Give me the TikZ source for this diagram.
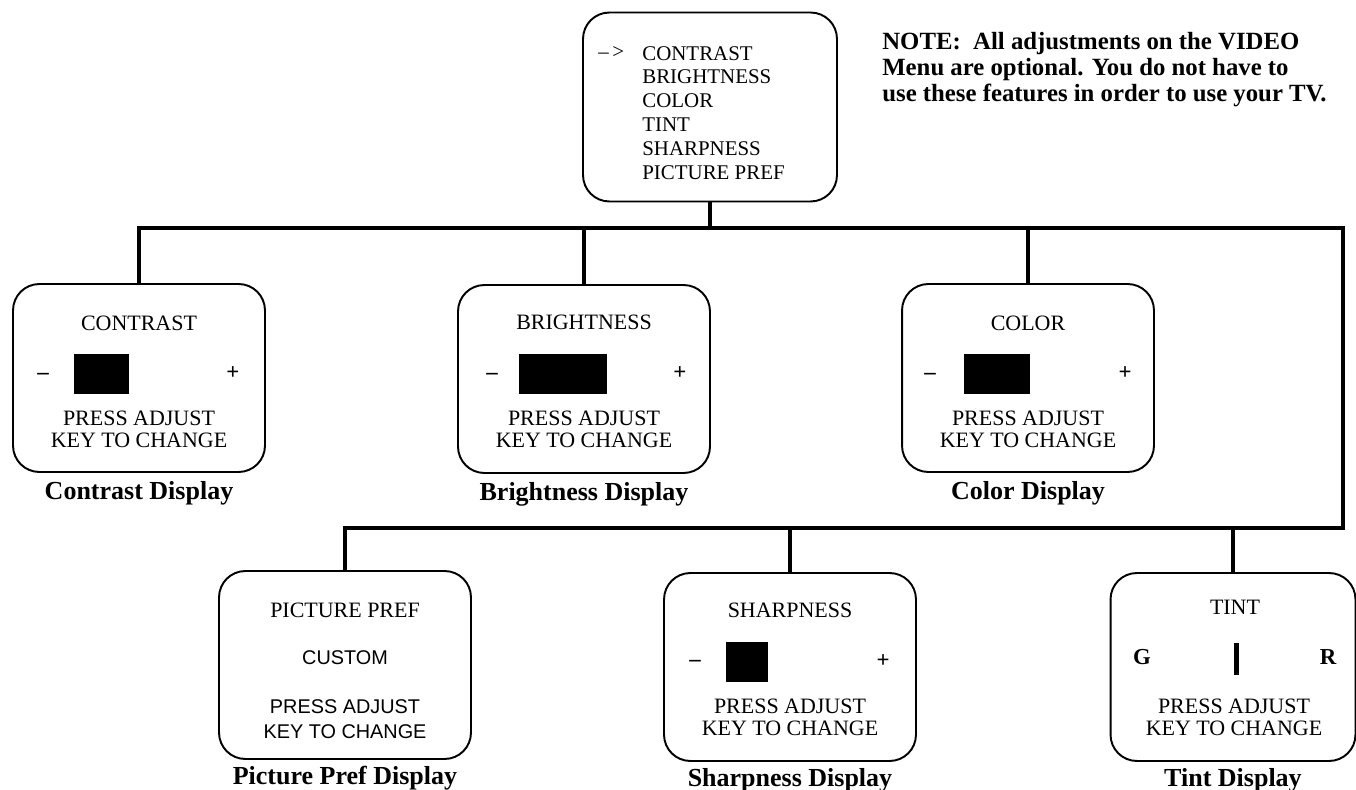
\documentclass[tikz,border=0pt]{standalone}
\usepackage{fontspec}
\setmainfont{Liberation Serif}
\newfontfamily\helv{Liberation Sans}
\usetikzlibrary{positioning}

\begin{document}
\begin{tikzpicture}[x=0.02cm,y=-0.02cm,
  panel/.style={draw,line width=1.1pt,rounded corners=15pt,minimum width=5.04cm,
                minimum height=3.76cm,inner sep=0pt},
  txt/.style={inner sep=0pt,align=center,font=\fontsize{12.5}{12.5}\selectfont},
  sign/.style={inner sep=0pt,font=\bfseries\fontsize{13}{13}\selectfont},
  sanstxt/.style={inner sep=0pt,align=center,font=\helv\fontsize{11.3}{14}\selectfont},
  dispcap/.style={inner sep=0pt,font=\bfseries\fontsize{14.8}{16}\selectfont},
  blk/.style={fill=black,inner sep=0pt,minimum height=0.82cm,anchor=west,minimum width=#1},
  bus/.style={line width=2.6pt}]
  \useasboundingbox (0,0) rectangle (1356,790);

  \node[panel,minimum width=5.08cm,minimum height=3.78cm] (menu) at (710,107) {};
  \node[inner sep=0pt,anchor=west,font=\fontsize{11.9}{11.9}\selectfont] (arw) at (598,53) {--\,>};
  \node[inner sep=0pt,anchor=west,align=left,font=\fontsize{11.9}{13.6}\selectfont] (items) at (642,113)
    {CONTRAST\\BRIGHTNESS\\COLOR\\TINT\\SHARPNESS\\PICTURE PREF};
  \node[inner sep=0pt,anchor=north west,align=left,font=\bfseries\fontsize{14.1}{14.8}\selectfont] (note) at (882,32)
    {NOTE:\ \ All adjustments on the VIDEO\\Menu are optional. You do not have to\\use these features in order to use your TV.};

  \node[panel] (con) at (139,378) {};
  \node[txt] (conT) at (139,323) {CONTRAST};
  \node[sign] (conM) at (43,376) {\textendash};
  \node[blk=1.1cm] (conB) at (74,374) {};
  \node[sign] (conP) at (233,373) {+};
  \node[txt] (conK) at (139,429) {PRESS ADJUST\\KEY TO CHANGE};
  \node[dispcap,below=0.16cm of con] (conL) {Contrast Display};

  \node[panel] (bri) at (584,379) {};
  \node[txt] (briT) at (584,322) {BRIGHTNESS};
  \node[sign] (briM) at (492,376) {\textendash};
  \node[blk=1.76cm] (briB) at (519,374) {};
  \node[sign] (briP) at (680,373) {+};
  \node[txt] (briK) at (584,429) {PRESS ADJUST\\KEY TO CHANGE};
  \node[dispcap,below=0.16cm of bri] (briL) {Brightness Display};

  \node[panel] (col) at (1028,378) {};
  \node[txt] (colT) at (1028,323) {COLOR};
  \node[sign] (colM) at (930,376) {\textendash};
  \node[blk=1.32cm] (colB) at (964,374) {};
  \node[sign] (colP) at (1125,373) {+};
  \node[txt] (colK) at (1028,429) {PRESS ADJUST\\KEY TO CHANGE};
  \node[dispcap,below=0.16cm of col] (colL) {Color Display};

  \node[panel] (pp) at (345,665) {};
  \node[txt] (ppT) at (345,610) {PICTURE PREF};
  \node[sanstxt] (ppC) at (345,658) {CUSTOM};
  \node[sanstxt] (ppK) at (345,719) {PRESS ADJUST\\KEY TO CHANGE};
  \node[dispcap,below=0.12cm of pp] (ppL) {Picture Pref Display};

  \node[panel] (shp) at (790,667) {};
  \node[txt] (shpT) at (790,610) {SHARPNESS};
  \node[sign] (shpM) at (695,663) {\textendash};
  \node[blk=0.84cm] (shpB) at (726,662) {};
  \node[sign] (shpP) at (883,661) {+};
  \node[txt] (shpK) at (790,717) {PRESS ADJUST\\KEY TO CHANGE};
  \node[dispcap,below=0.12cm of shp] (shpL) {Sharpness Display};

  \node[panel,minimum width=4.9cm] (tnt) at (1233,667) {};
  \node[txt] (tntT) at (1235,607) {TINT};
  \node[sign] (tntG) at (1142,657) {G};
  \node[fill=black,inner sep=0pt,minimum width=0.1cm,minimum height=0.64cm] (tntB) at (1236,659) {};
  \node[sign] (tntR) at (1328,657) {R};
  \node[txt] (tntK) at (1234,717) {PRESS ADJUST\\KEY TO CHANGE};
  \node[dispcap,below=0.12cm of tnt] (tntL) {Tint Display};

  \coordinate (turn) at (1343,228);
  \coordinate (low) at (1343,528);
  \draw[bus] (menu.south) -- (menu.south |- turn);
  \draw[bus] (con.north) |- (turn) -- (low) -| (pp.north);
  \draw[bus] (bri.north) -- (bri.north |- turn);
  \draw[bus] (col.north) -- (col.north |- turn);
  \draw[bus] (shp.north) -- (shp.north |- low);
  \draw[bus] (tnt.north) -- (tnt.north |- low);
\end{tikzpicture}
\end{document}
